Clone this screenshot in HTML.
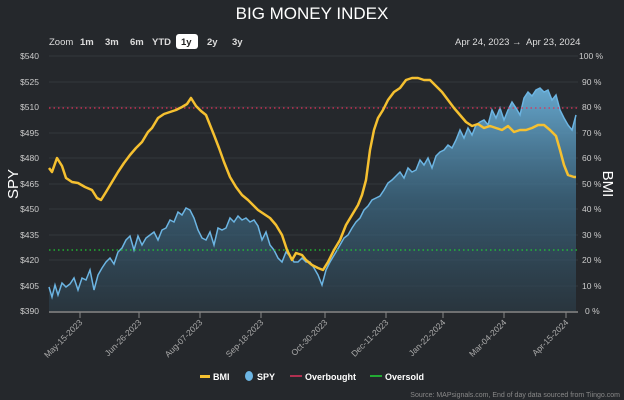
<!DOCTYPE html>
<html><head><meta charset="utf-8"><style>
body{margin:0;background:#25282c;}
svg{display:block;font-family:"Liberation Sans",sans-serif;}
</style></head><body>
<svg width="624" height="400" viewBox="0 0 624 400">
<defs>
<linearGradient id="g" x1="0" y1="0" x2="0" y2="1">
<stop offset="0" stop-color="#6aaed6" stop-opacity="0.95"/>
<stop offset="0.5" stop-color="#3f6f8c" stop-opacity="0.7"/>
<stop offset="1" stop-color="#2c3e4a" stop-opacity="0.6"/>
</linearGradient>
</defs>
<rect width="624" height="400" fill="#25282c"/>
<text x="312" y="19" fill="#fff" font-size="17" text-anchor="middle">BIG MONEY INDEX</text>
<g font-size="9.5" fill="#ddd">
<text x="49" y="45">Zoom</text>
<text x="80" y="45" font-weight="bold">1m</text>
<text x="105" y="45" font-weight="bold">3m</text>
<text x="130" y="45" font-weight="bold">6m</text>
<text x="152" y="45" font-weight="bold">YTD</text>
<rect x="176" y="34" width="22" height="15" rx="3" fill="#fff"/>
<text x="181" y="45" font-weight="bold" fill="#222">1y</text>
<text x="207" y="45" font-weight="bold">2y</text>
<text x="232" y="45" font-weight="bold">3y</text>
<text x="455" y="45">Apr 24, 2023</text>
<text x="512" y="45">→</text>
<text x="526" y="45">Apr 23, 2024</text>
</g>
<g stroke="#33373c" stroke-width="1">
<line x1="49" x2="578" y1="56" y2="56"/><line x1="49" x2="578" y1="82" y2="82"/>
<line x1="49" x2="578" y1="107" y2="107"/><line x1="49" x2="578" y1="133" y2="133"/>
<line x1="49" x2="578" y1="158" y2="158"/><line x1="49" x2="578" y1="184" y2="184"/>
<line x1="49" x2="578" y1="209" y2="209"/><line x1="49" x2="578" y1="235" y2="235"/>
<line x1="49" x2="578" y1="260" y2="260"/><line x1="49" x2="578" y1="286" y2="286"/>
</g>
<g font-size="8.5" fill="#ccc" text-anchor="end">
<text x="39" y="59">$540</text><text x="39" y="85">$525</text><text x="39" y="110">$510</text>
<text x="39" y="136">$495</text><text x="39" y="161">$480</text><text x="39" y="187">$465</text>
<text x="39" y="212">$450</text><text x="39" y="238">$435</text><text x="39" y="263">$420</text>
<text x="39" y="289">$405</text><text x="39" y="314">$390</text>
</g>
<g font-size="8.5" fill="#ccc">
<text x="579" y="59">100 %</text><text x="582" y="85">90 %</text><text x="582" y="110">80 %</text>
<text x="582" y="136">70 %</text><text x="582" y="161">60 %</text><text x="582" y="187">50 %</text>
<text x="582" y="212">40 %</text><text x="582" y="238">30 %</text><text x="582" y="263">20 %</text>
<text x="582" y="289">10 %</text><text x="585" y="314">0 %</text>
</g>
<text transform="translate(18,184) rotate(-90)" fill="#fff" font-size="15" text-anchor="middle">SPY</text>
<text transform="translate(603,184) rotate(90)" fill="#fff" font-size="15" text-anchor="middle">BMI</text>
<path id="spy" fill="url(#g)" d="M49,287 L52,297 L55,285 L58,295 L62,283 L66,287 L70,284 L74,278 L78,290 L82,278 L86,280 L90,270 L94,290 L98,275 L102,268 L106,262 L110,258 L114,264 L118,252 L122,248 L126,240 L130,236 L134,250 L138,236 L142,245 L146,238 L150,235 L154,232 L158,240 L162,230 L166,228 L170,220 L174,222 L178,212 L182,215 L186,208 L190,210 L194,218 L198,230 L202,238 L206,240 L210,232 L214,245 L218,228 L222,230 L226,228 L230,218 L234,222 L238,216 L242,220 L246,218 L250,222 L254,220 L258,226 L262,240 L266,232 L270,245 L274,250 L278,258 L282,262 L286,252 L290,256 L294,262 L298,262 L302,258 L306,262 L310,262 L314,268 L318,275 L322,285 L326,270 L330,262 L336,252 L340,245 L344,238 L348,235 L352,228 L356,222 L360,218 L364,210 L368,206 L372,200 L376,198 L380,196 L384,190 L388,183 L392,180 L396,176 L400,172 L404,178 L408,168 L412,172 L416,170 L420,160 L424,165 L428,158 L432,168 L436,156 L440,152 L444,150 L448,145 L452,148 L456,140 L460,130 L464,138 L468,128 L472,135 L476,125 L480,122 L484,120 L488,125 L492,110 L496,118 L500,108 L504,120 L508,110 L512,102 L516,108 L520,115 L524,98 L528,92 L532,96 L536,90 L540,88 L544,92 L548,90 L552,100 L556,95 L560,110 L564,118 L568,125 L572,130 L576,115 L576,311 L49,311 Z"/>
<polyline fill="none" stroke="#6cb5e3" stroke-width="1.5" points="49,287 52,297 55,285 58,295 62,283 66,287 70,284 74,278 78,290 82,278 86,280 90,270 94,290 98,275 102,268 106,262 110,258 114,264 118,252 122,248 126,240 130,236 134,250 138,236 142,245 146,238 150,235 154,232 158,240 162,230 166,228 170,220 174,222 178,212 182,215 186,208 190,210 194,218 198,230 202,238 206,240 210,232 214,245 218,228 222,230 226,228 230,218 234,222 238,216 242,220 246,218 250,222 254,220 258,226 262,240 266,232 270,245 274,250 278,258 282,262 286,252 290,256 294,262 298,262 302,258 306,262 310,262 314,268 318,275 322,285 326,270 330,262 336,252 340,245 344,238 348,235 352,228 356,222 360,218 364,210 368,206 372,200 376,198 380,196 384,190 388,183 392,180 396,176 400,172 404,178 408,168 412,172 416,170 420,160 424,165 428,158 432,168 436,156 440,152 444,150 448,145 452,148 456,140 460,130 464,138 468,128 472,135 476,125 480,122 484,120 488,125 492,110 496,118 500,108 504,120 508,110 512,102 516,108 520,115 524,98 528,92 532,96 536,90 540,88 544,92 548,90 552,100 556,95 560,110 564,118 568,125 572,130 576,115"/>
<line x1="49" x2="578" y1="108" y2="108" stroke="#e0305a" stroke-width="1.3" stroke-dasharray="1.5,3"/>
<line x1="49" x2="578" y1="250" y2="250" stroke="#22cc33" stroke-width="1.3" stroke-dasharray="1.5,3"/>
<polyline fill="none" stroke="#f5c030" stroke-width="2.5" stroke-linejoin="round" points="49,168 52,172 57,158 62,166 66,178 72,182 78,183 85,187 92,190 97,198 101,200 106,192 112,182 118,172 124,163 130,155 136,148 142,142 148,132 152,128 158,118 164,114 170,112 176,110 182,107 187,104 191,98 196,106 201,111 206,115 210,125 214,135 219,148 224,162 230,177 236,187 242,195 248,200 253,205 258,210 264,214 270,218 276,225 282,235 287,250 292,260 296,253 302,255 306,260 312,265 318,268 323,270 328,262 334,250 340,240 346,225 352,215 358,205 362,195 366,180 370,150 374,130 378,118 383,110 388,100 394,92 400,88 406,80 412,78 418,78 424,80 430,80 436,86 442,92 448,100 454,108 460,115 466,122 472,126 478,124 484,128 490,126 496,128 502,130 508,126 514,132 520,130 526,130 532,128 538,125 544,125 550,130 556,136 560,150 564,165 568,175 574,177 576,177"/>
<line x1="49" x2="578" y1="312" y2="312" stroke="#888" stroke-width="1.5"/>
<g stroke="#888" stroke-width="1">
<line x1="80" x2="80" y1="312" y2="318"/><line x1="139" x2="139" y1="312" y2="318"/>
<line x1="200" x2="200" y1="312" y2="318"/><line x1="261" x2="261" y1="312" y2="318"/>
<line x1="325" x2="325" y1="312" y2="318"/><line x1="386" x2="386" y1="312" y2="318"/>
<line x1="443" x2="443" y1="312" y2="318"/><line x1="504" x2="504" y1="312" y2="318"/>
<line x1="566" x2="566" y1="312" y2="318"/>
</g>
<g font-size="8.5" fill="#aaa" text-anchor="end">
<text transform="translate(83,323) rotate(-45)">May-15-2023</text>
<text transform="translate(142,323) rotate(-45)">Jun-26-2023</text>
<text transform="translate(203,323) rotate(-45)">Aug-07-2023</text>
<text transform="translate(264,323) rotate(-45)">Sep-18-2023</text>
<text transform="translate(328,323) rotate(-45)">Oct-30-2023</text>
<text transform="translate(389,323) rotate(-45)">Dec-11-2023</text>
<text transform="translate(446,323) rotate(-45)">Jan-22-2024</text>
<text transform="translate(507,323) rotate(-45)">Mar-04-2024</text>
<text transform="translate(569,323) rotate(-45)">Apr-15-2024</text>
</g>
<g font-size="9" font-weight="bold" fill="#fff">
<rect x="200" y="375" width="10" height="3" fill="#f5c030"/><text x="213" y="380">BMI</text>
<ellipse cx="249" cy="376" rx="4" ry="5" fill="#6cb5e3"/><text x="257" y="380">SPY</text>
<rect x="290" y="375" width="12" height="2" fill="#b03050"/><text x="305" y="380">Overbought</text>
<rect x="370" y="375" width="12" height="2" fill="#22aa33"/><text x="385" y="380">Oversold</text>
</g>
<text x="620" y="397" font-size="7" fill="#888" text-anchor="end">Source: MAPsignals.com, End of day data sourced from Tiingo.com</text>
</svg>
</body></html>
